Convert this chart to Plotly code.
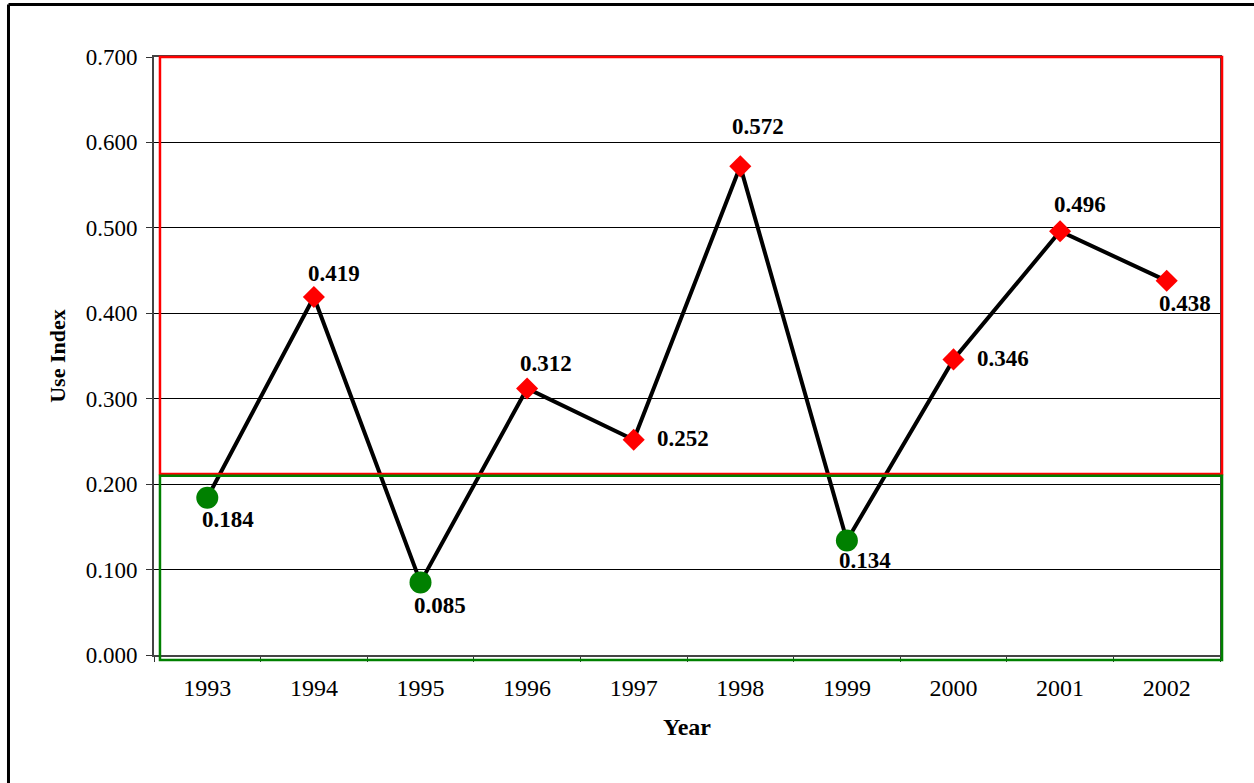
import plotly.graph_objects as go

years = ["1993", "1994", "1995", "1996", "1997", "1998", "1999", "2000", "2001", "2002"]
use_index = [0.184, 0.419, 0.085, 0.312, 0.252, 0.572, 0.134, 0.346, 0.496, 0.438]
threshold = 0.212
y_max = 0.7
y_ticks = [0.0, 0.1, 0.2, 0.3, 0.4, 0.5, 0.6, 0.7]

# label offsets in screen pixels (dx right, dy down)
label_offsets = [(21, 22), (20, -24), (19, 23), (19, -25), (49, -1),
                 (18, -40), (18, 20), (49, -1), (20, -27), (18, 23)]

low_x = [y for y, v in zip(years, use_index) if v < threshold]
low_v = [v for v in use_index if v < threshold]
high_x = [y for y, v in zip(years, use_index) if v >= threshold]
high_v = [v for v in use_index if v >= threshold]

fig = go.Figure()
fig.add_trace(go.Scatter(x=years, y=use_index, mode="lines",
                         line=dict(color="black", width=4), hoverinfo="skip",
                         showlegend=False))
fig.add_trace(go.Scatter(x=high_x, y=high_v, mode="markers",
                         marker=dict(symbol="diamond", size=17, color="#FF0000",
                                     line=dict(width=0)), showlegend=False))
fig.add_trace(go.Scatter(x=low_x, y=low_v, mode="markers",
                         marker=dict(symbol="circle", size=22, color="#008000",
                                     line=dict(width=0)), showlegend=False))

for i, (v, (dx, dy)) in enumerate(zip(use_index, label_offsets)):
    fig.add_annotation(x=i, y=v, xref="x", yref="y", text=f"<b>{v:.3f}</b>", showarrow=False,
                       xshift=dx, yshift=-dy,
                       font=dict(family="Liberation Serif", size=23, color="black"))

# outer frame (left and top visible)
fig.add_shape(type="line", xref="paper", yref="paper", x0=-0.1365, x1=-0.1365, y0=1.088, y1=-0.3,
              line=dict(color="black", width=3))
fig.add_shape(type="line", xref="paper", yref="paper", x0=-0.1365, x1=1.1, y0=1.088, y1=1.088,
              line=dict(color="black", width=3))

# region rectangles (paper coords so edges are not clipped)
t_paper = threshold / y_max
fig.add_shape(type="rect", xref="paper", yref="paper", x0=0.0056, x1=1.0019, y0=t_paper, y1=1.0,
              line=dict(color="#FF0000", width=2.5), layer="above")
fig.add_shape(type="rect", xref="paper", yref="paper", x0=0.0056, x1=1.0019, y0=-0.0085,
              y1=t_paper - 0.003,
              line=dict(color="#008000", width=2.5), layer="above")

fig.update_layout(
    width=1254, height=783,
    margin=dict(l=154, r=34, t=57, b=128),
    paper_bgcolor="white", plot_bgcolor="white",
    font=dict(family="Liberation Serif", size=23, color="black"),
    xaxis=dict(type="category", range=[-0.5, 9.5], tickson="boundaries",
               ticks="outside", ticklen=5, tickcolor="#333",
               showline=True, linecolor="#444", linewidth=2, mirror=True,
               showgrid=False, zeroline=False, ticklabelstandoff=10,
               title=dict(text="<b>Year</b>", font=dict(size=24), standoff=18),
               tickfont=dict(size=24)),
    yaxis=dict(range=[0, y_max], tickvals=y_ticks, tickformat=".3f",
               ticks="outside", ticklen=6, tickcolor="#333",
               showline=True, linecolor="#444", linewidth=2, mirror=True,
               showgrid=True, gridcolor="black", gridwidth=1, zeroline=False,
               ticklabelstandoff=4,
               title=dict(text="<b>Use Index</b>", font=dict(size=22), standoff=14),
               tickfont=dict(size=23)),
)

fig.write_html("out.html")
